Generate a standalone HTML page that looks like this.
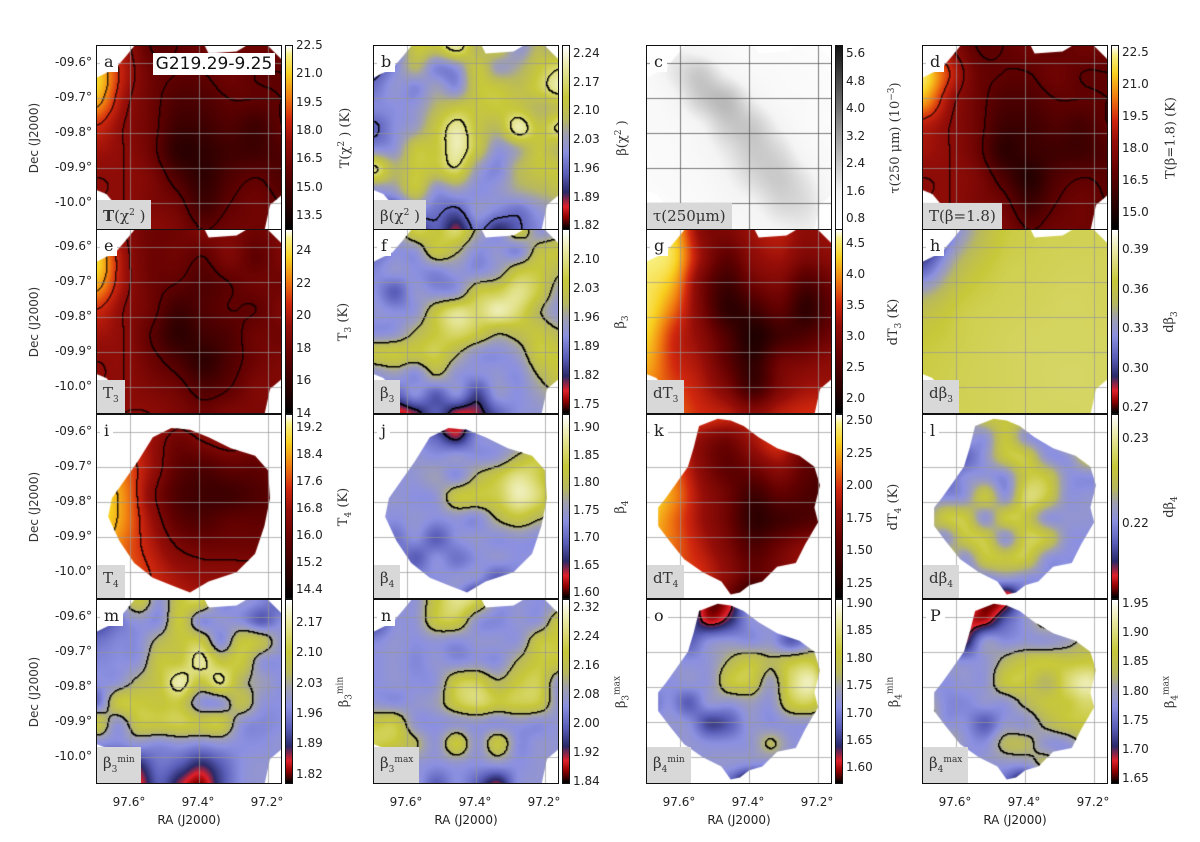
<!DOCTYPE html>
<html><head><meta charset="utf-8">
<style>
body{margin:0;background:#fff;}
#fig{position:relative;width:1200px;height:842px;overflow:hidden;background:#fff;font-family:"DejaVu Sans","Liberation Sans",sans-serif;color:#222;}
.abs{position:absolute;}
.panel{position:absolute;width:186px;height:185px;border:1.5px solid #111;box-sizing:border-box;overflow:hidden;background:#fff;}
.panel canvas{position:absolute;left:0;top:0;}
.cb{position:absolute;width:8px;height:185px;border:1px solid #111;box-sizing:border-box;}
.tick{position:absolute;font-size:12px;line-height:12px;}
.cbl{position:absolute;font-family:"DejaVu Serif","Liberation Serif",serif;font-size:13px;white-space:nowrap;transform:translate(-50%,-50%) rotate(-90deg);color:#333;}
.letter{position:absolute;left:3px;top:6px;background:#fff;font-family:"DejaVu Serif","Liberation Serif",serif;font-size:16px;padding:0 4px;line-height:20px;}
.lab{position:absolute;left:0;bottom:0;background:#d8d8d8;font-family:"DejaVu Serif","Liberation Serif",serif;font-size:15px;padding:3px 6px;line-height:20px;white-space:nowrap;color:#333;}
.lab sup,.lab sub{font-size:9px;}
.cbl sup,.cbl sub{font-size:9px;}
</style></head><body>
<div id="fig"></div>
<script>
// ---- data ----
const decTicks=["-09.6°","-09.7°","-09.8°","-09.9°","-10.0°"];
const raTicks=["97.6°","97.4°","97.2°"];
const gridA=[[.55,.5,.3,.3,.35,.35,.35,.35],[.85,.55,.35,.3,.3,.35,.3,.3],[.8,.5,.35,.25,.25,.3,.3,.3],[.6,.45,.35,.2,.2,.25,.2,.3],[.5,.45,.35,.15,.15,.2,.2,.25],[.45,.45,.4,.25,.15,.25,.3,.25],[.45,.45,.4,.35,.2,.3,.35,.3],[.45,.45,.45,.4,.3,.35,.35,.35]];
const gridD=[[.5,.45,.3,.3,.35,.3,.35,.35],[.9,.6,.35,.3,.3,.35,.3,.3],[.8,.5,.35,.25,.25,.3,.3,.3],[.55,.45,.35,.2,.2,.25,.22,.3],[.5,.45,.35,.15,.18,.2,.2,.25],[.45,.45,.4,.25,.12,.25,.3,.28],[.45,.45,.4,.35,.2,.3,.35,.3],[.45,.45,.45,.4,.3,.35,.35,.35]];
const gridE=[[.5,.45,.35,.35,.4,.4,.35,.4],[.85,.5,.35,.35,.3,.4,.3,.4],[.8,.5,.35,.3,.25,.3,.35,.35],[.6,.45,.35,.2,.25,.3,.3,.4],[.5,.45,.3,.15,.2,.25,.35,.35],[.45,.45,.35,.25,.15,.25,.35,.4],[.45,.45,.4,.35,.25,.3,.4,.4],[.45,.45,.45,.4,.35,.4,.4,.4]];
const gridG=[[.92,.85,.45,.4,.5,.55,.45,.5],[.95,.88,.5,.3,.45,.5,.4,.45],[.92,.8,.4,.2,.35,.4,.25,.35],[.9,.7,.4,.15,.2,.3,.15,.3],[.85,.6,.45,.25,.1,.2,.25,.35],[.8,.6,.5,.3,.15,.35,.4,.45],[.75,.65,.55,.4,.2,.4,.5,.5],[.8,.7,.6,.55,.45,.55,.6,.6]];
const gridI=[[.6,.65,.55,.45,.5,.55,.5,.5],[.7,.65,.5,.35,.4,.45,.4,.4],[.85,.7,.5,.3,.25,.3,.3,.35],[.9,.75,.45,.25,.2,.2,.25,.3],[.9,.75,.5,.3,.25,.3,.3,.3],[.85,.7,.55,.4,.35,.35,.35,.4],[.8,.7,.6,.5,.45,.45,.45,.5],[.8,.7,.6,.55,.5,.5,.5,.5]];
const gridK=[[.7,.7,.65,.6,.55,.5,.45,.4],[.75,.65,.45,.35,.5,.6,.35,.3],[.85,.7,.45,.3,.35,.45,.3,.25],[.9,.75,.5,.35,.2,.3,.25,.2],[.85,.7,.5,.35,.15,.2,.25,.3],[.8,.7,.55,.4,.25,.35,.45,.45],[.75,.65,.6,.45,.3,.4,.5,.5],[.7,.6,.55,.35,.1,.4,.5,.5]];
const gridC=[[.1,.2,.15,.1,.08,.08,.06,.06],[.12,.25,.35,.2,.12,.1,.08,.06],[.1,.18,.35,.4,.22,.12,.1,.08],[.1,.12,.2,.35,.35,.2,.1,.08],[.08,.1,.15,.25,.35,.3,.15,.1],[.08,.1,.12,.2,.3,.35,.25,.12],[.06,.08,.1,.15,.2,.3,.28,.15],[.06,.08,.1,.12,.15,.2,.22,.15]];
const gridH=[[.05,.45,.7,.75,.76,.76],[.3,.62,.74,.76,.77,.77],[.62,.73,.76,.77,.78,.77],[.72,.75,.77,.78,.78,.78],[.74,.76,.77,.78,.79,.78],[.75,.76,.77,.78,.78,.79]];
const gridB=[[.1,.3,.7,.7,.9,.6,.7,.45,.6,.5],[.25,.4,.6,.4,.45,.7,.5,.55,.7,.8],[.35,.45,.4,.5,.42,.7,.7,.65,.75,.9],[.4,.42,.45,.6,.7,.7,.72,.7,.6,.65],[.3,.42,.5,.7,.88,.7,.62,.9,.7,.85],[.42,.45,.7,.72,.9,.7,.45,.55,.7,.6],[.85,.6,.72,.7,.8,.5,.4,.6,.7,.7],[.45,.5,.7,.45,.5,.42,.45,.55,.6,.65],[.3,.25,.4,.35,.3,.45,.4,.35,.45,.5],[.4,.3,.2,.3,.15,.35,.2,.3,.4,.5]];
const gridF=[[.1,.45,.75,.7,.8,.55,.4,.7,.45,.5],[.3,.42,.45,.7,.6,.42,.45,.4,.65,.7],[.4,.45,.42,.4,.45,.42,.5,.7,.72,.6],[.42,.3,.45,.42,.45,.7,.75,.85,.72,.5],[.45,.42,.45,.7,.85,.8,.9,.8,.6,.45],[.42,.45,.6,.72,.8,.72,.6,.65,.7,.6],[.7,.72,.7,.75,.6,.45,.42,.5,.72,.7],[.45,.5,.42,.6,.45,.42,.45,.42,.6,.7],[.4,.3,.42,.3,.42,.25,.45,.42,.5,.6],[.35,.1,.15,.3,.12,.15,.3,.42,.45,.5]];
const gridJ=[[.45,.42,.42,.1,.05,.3,.42,.45,.45,.45],[.42,.45,.4,.3,.15,.4,.45,.42,.45,.45],[.42,.42,.45,.42,.45,.42,.45,.6,.7,.45],[.3,.42,.45,.5,.42,.6,.72,.85,.75,.5],[.42,.45,.42,.45,.7,.72,.75,.9,.8,.55],[.45,.42,.45,.42,.45,.42,.6,.7,.6,.5],[.42,.35,.42,.3,.42,.45,.42,.45,.42,.45],[.45,.42,.3,.42,.35,.42,.45,.42,.45,.45],[.42,.45,.42,.42,.45,.42,.3,.42,.45,.45],[.45,.42,.45,.42,.42,.1,.42,.45,.45,.45]];
const gridL=[[.45,.45,.45,.7,.7,.72,.7,.45,.45,.45],[.45,.2,.45,.45,.7,.45,.45,.7,.8,.7],[.4,.15,.3,.45,.7,.72,.45,.45,.7,.72],[.42,.3,.42,.45,.42,.72,.7,.45,.42,.45],[.45,.42,.45,.7,.45,.8,.72,.45,.45,.45],[.45,.7,.72,.45,.72,.7,.45,.45,.45,.42],[.7,.45,.7,.72,.45,.75,.7,.45,.42,.42],[.45,.72,.45,.7,.7,.72,.45,.42,.42,.45],[.45,.45,.45,.42,.45,.42,.42,.42,.15,.45],[.45,.45,.45,.42,0,.42,.42,.42,.45,.45]];
const gridM=[[.05,.4,.7,.45,.7,.75,.4,.45,.4,.3],[.2,.35,.45,.42,.72,.42,.45,.42,.3,.42],[.35,.4,.42,.6,.7,.72,.42,.7,.65,.45],[.4,.42,.45,.7,.72,.88,.7,.72,.45,.42],[.42,.45,.6,.7,.9,.7,.85,.6,.5,.42],[.35,.7,.72,.7,.72,.45,.45,.65,.45,.42],[.7,.45,.7,.72,.75,.7,.72,.45,.4,.42],[.42,.4,.45,.42,.45,.42,.45,.42,.42,.45],[.3,.15,.2,.35,.3,.2,.3,.42,.45,.42],[.42,.2,.1,.3,.15,.05,.25,.42,.45,.45]];
const gridN=[[.05,.42,.45,.7,.85,.75,.45,.45,.42,.45],[.2,.42,.45,.7,.72,.45,.4,.45,.45,.7],[.4,.45,.42,.45,.42,.45,.45,.45,.7,.72],[.42,.45,.4,.45,.42,.45,.42,.6,.72,.7],[.42,.45,.42,.45,.72,.75,.6,.72,.75,.45],[.45,.42,.45,.5,.72,.8,.72,.75,.72,.45],[.7,.72,.45,.42,.45,.45,.42,.45,.42,.45],[.75,.7,.6,.45,.72,.45,.7,.42,.45,.45],[.45,.42,.45,.42,.45,.42,.45,.42,.45,.45],[.42,.3,.45,.3,.42,.3,.15,.42,.45,.45]];
const gridO=[[.45,.45,.3,.05,.1,.45,.45,.45,.45,.45],[.45,.45,.3,.1,.2,.42,.45,.45,.45,.45],[.45,.42,.3,.42,.45,.42,.45,.3,.45,.6],[.42,.45,.42,.45,.6,.7,.6,.7,.72,.45],[.45,.42,.45,.45,.7,.72,.5,.8,.9,.5],[.3,.42,.3,.45,.45,.5,.45,.72,.75,.45],[.42,.45,.42,.25,.3,.45,.42,.45,.45,.45],[.45,.42,.45,.42,.42,.45,.6,.45,.45,.45],[.45,.45,.42,.45,.45,.42,.42,.45,.45,.45],[.45,.45,.45,.42,.3,.02,.3,.45,.45,.45]];
const gridP=[[.45,.45,.3,.05,.1,.45,.5,.45,.45,.45],[.45,.45,.15,.1,.3,.45,.6,.45,.45,.45],[.45,.2,.15,.45,.42,.45,.45,.5,.6,.6],[.42,.45,.42,.45,.6,.7,.72,.7,.72,.7],[.45,.42,.45,.45,.7,.72,.6,.8,.9,.75],[.6,.42,.4,.45,.45,.6,.7,.72,.8,.7],[.7,.45,.42,.3,.45,.45,.6,.7,.72,.7],[.45,.6,.45,.42,.6,.6,.45,.45,.6,.45],[.45,.45,.42,.45,.45,.45,.6,.45,.45,.45],[.45,.45,.45,.42,.3,.05,.3,.6,.45,.45]];
const ticksA=["22.5","21.0","19.5","18.0","16.5","15.0","13.5"];
const ticksB=["2.24","2.17","2.10","2.03","1.96","1.89","1.82"];
const ticksC=["5.6","4.8","4.0","3.2","2.4","1.6","0.8"];
const ticksD=["22.5","21.0","19.5","18.0","16.5","15.0"];
const ticksE=["24","22","20","18","16","14"];
const ticksF=["2.10","2.03","1.96","1.89","1.82","1.75"];
const ticksG=["4.5","4.0","3.5","3.0","2.5","2.0"];
const ticksH=["0.39","0.36","0.33","0.30","0.27"];
const ticksI=["19.2","18.4","17.6","16.8","16.0","15.2","14.4"];
const ticksJ=["1.90","1.85","1.80","1.75","1.70","1.65","1.60"];
const ticksK=["2.50","2.25","2.00","1.75","1.50","1.25"];
const ticksL=["0.23","0.22"];
const ticksM=["2.17","2.10","2.03","1.96","1.89","1.82"];
const ticksN=["2.32","2.24","2.16","2.08","2.00","1.92","1.84"];
const ticksO=["1.90","1.85","1.80","1.75","1.70","1.65","1.60"];
const ticksP=["1.95","1.90","1.85","1.80","1.75","1.70","1.65"];

// ---- colormaps / masks ----
const HOT=[[0,0,0,0],[.3,95,0,0],[.48,150,14,8],[.6,210,40,14],[.72,240,122,16],[.85,248,208,32],[.95,248,240,128],[1,255,255,255]];
const BETA=[[0,0,0,0],[.06,139,0,0],[.12,224,32,42],[.2,42,42,106],[.3,90,94,184],[.42,140,144,224],[.52,160,160,176],[.6,184,184,96],[.72,200,200,58],[.88,232,232,160],[1,255,255,255]];
const GRAY=[[0,255,255,255],[.2,244,244,244],[.5,160,160,160],[1,20,20,20]];
function cmap(st,v){v=Math.max(0,Math.min(1,v));for(let i=1;i<st.length;i++){if(v<=st[i][0]){const a=st[i-1],b=st[i],t=(v-a[0])/(b[0]-a[0]);return [a[1]+(b[1]-a[1])*t,a[2]+(b[2]-a[2])*t,a[3]+(b[3]-a[3])*t];}}const l=st[st.length-1];return [l[1],l[2],l[3]];}
const FULL=[[.2,0],[.58,0],[.6,.04],[.75,.03],[.8,0],[.92,0],[1,.08],[1,.8],[.93,.86],[.9,1],[.14,1],[.1,.86],[.05,.8],[0,.78],[0,.17],[.1,.12],[.16,.05]];
const BLOB=[[.28,.06],[.38,.02],[.45,.03],[.52,.06],[.6,.12],[.7,.18],[.82,.22],[.9,.28],[.93,.38],[.9,.5],[.92,.58],[.85,.7],[.8,.8],[.7,.82],[.62,.9],[.55,.92],[.5,.96],[.45,.97],[.4,.9],[.3,.85],[.2,.78],[.12,.68],[.06,.6],[.06,.5],[.1,.45],[.15,.38],[.22,.28],[.25,.18]];
const BLOBI=[[.3,.12],[.4,.07],[.5,.08],[.6,.12],[.72,.18],[.85,.22],[.92,.3],[.93,.45],[.9,.6],[.85,.75],[.75,.85],[.6,.9],[.5,.96],[.4,.92],[.3,.88],[.2,.8],[.12,.68],[.06,.55],[.08,.45],[.15,.35],[.22,.25]];

function cr(p0,p1,p2,p3,t){return 0.5*((2*p1)+(-p0+p2)*t+(2*p0-5*p1+4*p2-p3)*t*t+(-p0+3*p1-3*p2+p3)*t*t*t);}
function sample(g,x,y){const R=g.length,C=g[0].length;const fx=x*(C-1),fy=y*(R-1);
  const i=Math.min(Math.floor(fy),R-2),j=Math.min(Math.floor(fx),C-2);const ty=fy-i,tx=fx-j;
  const gv=(a,b)=>g[Math.max(0,Math.min(R-1,a))][Math.max(0,Math.min(C-1,b))];
  const rows=[];for(let k=-1;k<=2;k++){rows.push(cr(gv(i+k,j-1),gv(i+k,j),gv(i+k,j+1),gv(i+k,j+2),tx));}
  return cr(rows[0],rows[1],rows[2],rows[3],ty);}

const panels=[
{id:"a",c:0,r:0,g:gridA,cm:HOT,m:FULL,lv:[.3,.45,.6,.75],lc:"rgba(0,0,0,.7)",t:ticksA,t0:0,st:28.3,cl:"T(χ<sup>2</sup> ) (K)",lab:"<b>T</b>(χ<sup>2</sup> )"},
{id:"b",c:1,r:0,g:gridB,cm:BETA,m:FULL,lv:[.32,.82],lc:"#000",t:ticksB,t0:8,st:28.7,cl:"β(χ<sup>2</sup> )",lab:"β(χ<sup>2</sup> )"},
{id:"c",c:2,r:0,g:gridC,cm:GRAY,m:FULL,lv:[],lc:"#000",t:ticksC,t0:8,st:27.5,cl:"τ(250 μm) (10<sup>−3</sup>)",lab:"τ(250μm)",gc:"rgba(90,90,90,.8)"},
{id:"d",c:3,r:0,g:gridD,cm:HOT,m:FULL,lv:[.3,.45,.6],lc:"rgba(0,0,0,.7)",t:ticksD,t0:7,st:32,cl:"T(β=1.8) (K)",lab:"T(β=1.8)"},
{id:"e",c:0,r:1,g:gridE,cm:HOT,m:FULL,lv:[.3,.45,.6,.75],lc:"rgba(0,0,0,.7)",t:ticksE,t0:21,st:32.5,cl:"T<sub>3</sub> (K)",lab:"T<sub>3</sub>"},
{id:"f",c:1,r:1,g:gridF,cm:BETA,m:FULL,lv:[.2,.58],lc:"#000",t:ticksF,t0:30,st:29,cl:"β<sub>3</sub>",lab:"β<sub>3</sub>"},
{id:"g",c:2,r:1,g:gridG,cm:HOT,m:FULL,lv:[],lc:"#000",t:ticksG,t0:14,st:31,cl:"dT<sub>3</sub> (K)",lab:"dT<sub>3</sub>"},
{id:"h",c:3,r:1,g:gridH,cm:BETA,m:FULL,lv:[],lc:"#000",t:ticksH,t0:20,st:39.5,cl:"dβ<sub>3</sub>",lab:"dβ<sub>3</sub>"},
{id:"i",c:0,r:2,g:gridI,cm:HOT,m:BLOBI,lv:[.4,.6,.8],lc:"rgba(0,0,0,.8)",t:ticksI,t0:13,st:27,cl:"T<sub>4</sub> (K)",lab:"T<sub>4</sub>"},
{id:"j",c:1,r:2,g:gridJ,cm:BETA,m:BLOBI,lv:[.2,.58],lc:"#000",t:ticksJ,t0:13,st:27.5,cl:"β<sub>4</sub>",lab:"β<sub>4</sub>"},
{id:"k",c:2,r:2,g:gridK,cm:HOT,m:BLOB,lv:[],lc:"#000",t:ticksK,t0:6,st:32.6,cl:"dT<sub>4</sub> (K)",lab:"dT<sub>4</sub>"},
{id:"l",c:3,r:2,g:gridL,cm:BETA,m:BLOB,lv:[],lc:"#000",t:ticksL,t0:24,st:85,cl:"dβ<sub>4</sub>",lab:"dβ<sub>4</sub>"},
{id:"m",c:0,r:3,g:gridM,cm:BETA,m:FULL,lv:[.55,.84],lc:"#000",t:ticksM,t0:23,st:30.3,cl:"β<sub>3</sub><sup>min</sup>",lab:"β<sub>3</sub><sup>min</sup>"},
{id:"n",c:1,r:3,g:gridN,cm:BETA,m:FULL,lv:[.58],lc:"#000",t:ticksN,t0:8,st:29,cl:"β<sub>3</sub><sup>max</sup>",lab:"β<sub>3</sub><sup>max</sup>"},
{id:"o",c:2,r:3,g:gridO,cm:BETA,m:BLOB,lv:[.15,.58],lc:"#000",t:ticksO,t0:4,st:27.4,cl:"β<sub>4</sub><sup>min</sup>",lab:"β<sub>4</sub><sup>min</sup>"},
{id:"p",c:3,r:3,g:gridP,cm:BETA,m:BLOB,lv:[.15,.55],lc:"#000",t:ticksP,t0:4,st:29.2,cl:"β<sub>4</sub><sup>max</sup>",lab:"β<sub>4</sub><sup>max</sup>"}
];
const colX=[96,373,646,922], rowY=[45,229,414,599], W=186, H=185;
const fig=document.getElementById('fig');

function drawMap(cv,p){
  const ctx=cv.getContext('2d');const img=ctx.createImageData(W,H);
  const lvIdx=new Int16Array(W*H);
  for(let y=0;y<H;y++)for(let x=0;x<W;x++){const v=sample(p.g,x/(W-1),y/(H-1));const c=cmap(p.cm,v);const k=(y*W+x)*4;img.data[k]=c[0];img.data[k+1]=c[1];img.data[k+2]=c[2];img.data[k+3]=255;let n=0;for(const l of p.lv)if(v>l)n++;lvIdx[y*W+x]=n;}
  const off=document.createElement('canvas');off.width=W;off.height=H;off.getContext('2d').putImageData(img,0,0);
  ctx.save();ctx.beginPath();p.m.forEach((pt,i)=>{const X=pt[0]*W,Y=pt[1]*H;i?ctx.lineTo(X,Y):ctx.moveTo(X,Y);});ctx.closePath();ctx.clip();
  ctx.drawImage(off,0,0);
  ctx.fillStyle=p.lc;
  for(let y=0;y<H-1;y++)for(let x=0;x<W-1;x++){const a=lvIdx[y*W+x];if(a!==lvIdx[y*W+x+1]||a!==lvIdx[(y+1)*W+x]){ctx.fillRect(x,y,1.4,1.4);}}
  ctx.restore();
  ctx.strokeStyle=p.gc||"rgba(150,150,150,.7)";ctx.lineWidth=1;
  [33,102,171].forEach(x=>{ctx.beginPath();ctx.moveTo(x+.5,0);ctx.lineTo(x+.5,H);ctx.stroke();});
  [17,52,87,122,157].forEach(y=>{ctx.beginPath();ctx.moveTo(0,y+.5);ctx.lineTo(W,y+.5);ctx.stroke();});
}
function drawBar(cv,cm){const ctx=cv.getContext('2d');for(let y=0;y<H;y++){const c=cmap(cm,1-y/(H-1));ctx.fillStyle=`rgb(${c[0]|0},${c[1]|0},${c[2]|0})`;ctx.fillRect(0,y,8,1);}}

panels.forEach(p=>{
  const x0=colX[p.c], y0=rowY[p.r];
  const pd=document.createElement('div');pd.className='panel';pd.style.left=x0+'px';pd.style.top=y0+'px';
  
  
  const cv=document.createElement('canvas');cv.width=W;cv.height=H;
  
  
  pd.appendChild(cv);drawMap(cv,p);
  const lt=document.createElement('div');lt.className='letter';lt.textContent=(p.id==='p'?'P':p.id);
  
  
  pd.appendChild(lt);
  const lb=document.createElement('div');lb.className='lab';lb.innerHTML=p.lab;
  
  
  pd.appendChild(lb);
  fig.appendChild(pd);
  const cb=document.createElement('canvas');cb.width=8;cb.height=H;cb.className='cb';cb.style.left=(x0+W+3)+'px';cb.style.top=y0+'px';
  
  
  fig.appendChild(cb);drawBar(cb,p.cm);
  p.t.forEach((t,i)=>{const d=document.createElement('div');d.className='tick';d.textContent=t;d.style.left=(x0+W+14)+'px';d.style.top=(y0+p.t0+i*p.st-6)+'px';
    
    
    fig.appendChild(d);});
  const cl=document.createElement('div');cl.className='cbl';cl.innerHTML=p.cl;cl.style.left=(x0+249)+'px';cl.style.top=(y0+H/2)+'px';
  
  
  fig.appendChild(cl);
});
const sb=document.createElement('div');sb.className='abs';sb.textContent='G219.29-9.25';
sb.style.cssText='position:absolute;left:153px;top:53px;width:122px;height:22px;background:#fff;font-size:17px;line-height:22px;text-align:center;color:#111;';


fig.appendChild(sb);
rowY.forEach((y0,r)=>{
  decTicks.forEach((t,i)=>{const d=document.createElement('div');d.className='tick';d.textContent=t;d.style.left='40px';d.style.width='52px';d.style.textAlign='right';d.style.top=(y0+17+i*35-6)+'px';
    
    
    fig.appendChild(d);});
  const yl=document.createElement('div');yl.className='cbl';yl.style.fontFamily='"DejaVu Sans",sans-serif';yl.style.fontSize='12px';yl.textContent='Dec (J2000)';yl.style.left='34px';yl.style.top=(y0+H/2)+'px';
  
  
  fig.appendChild(yl);
});
colX.forEach(x0=>{
  raTicks.forEach((t,i)=>{const d=document.createElement('div');d.className='tick';d.textContent=t;d.style.left=(x0+33+i*69-20)+'px';d.style.width='40px';d.style.textAlign='center';d.style.top='796px';
    
    
    fig.appendChild(d);});
  const xl=document.createElement('div');xl.className='tick';xl.textContent='RA (J2000)';xl.style.left=(x0)+'px';xl.style.width=W+'px';xl.style.textAlign='center';xl.style.top='814px';
  
  
  fig.appendChild(xl);
});
</script>
</body></html>
